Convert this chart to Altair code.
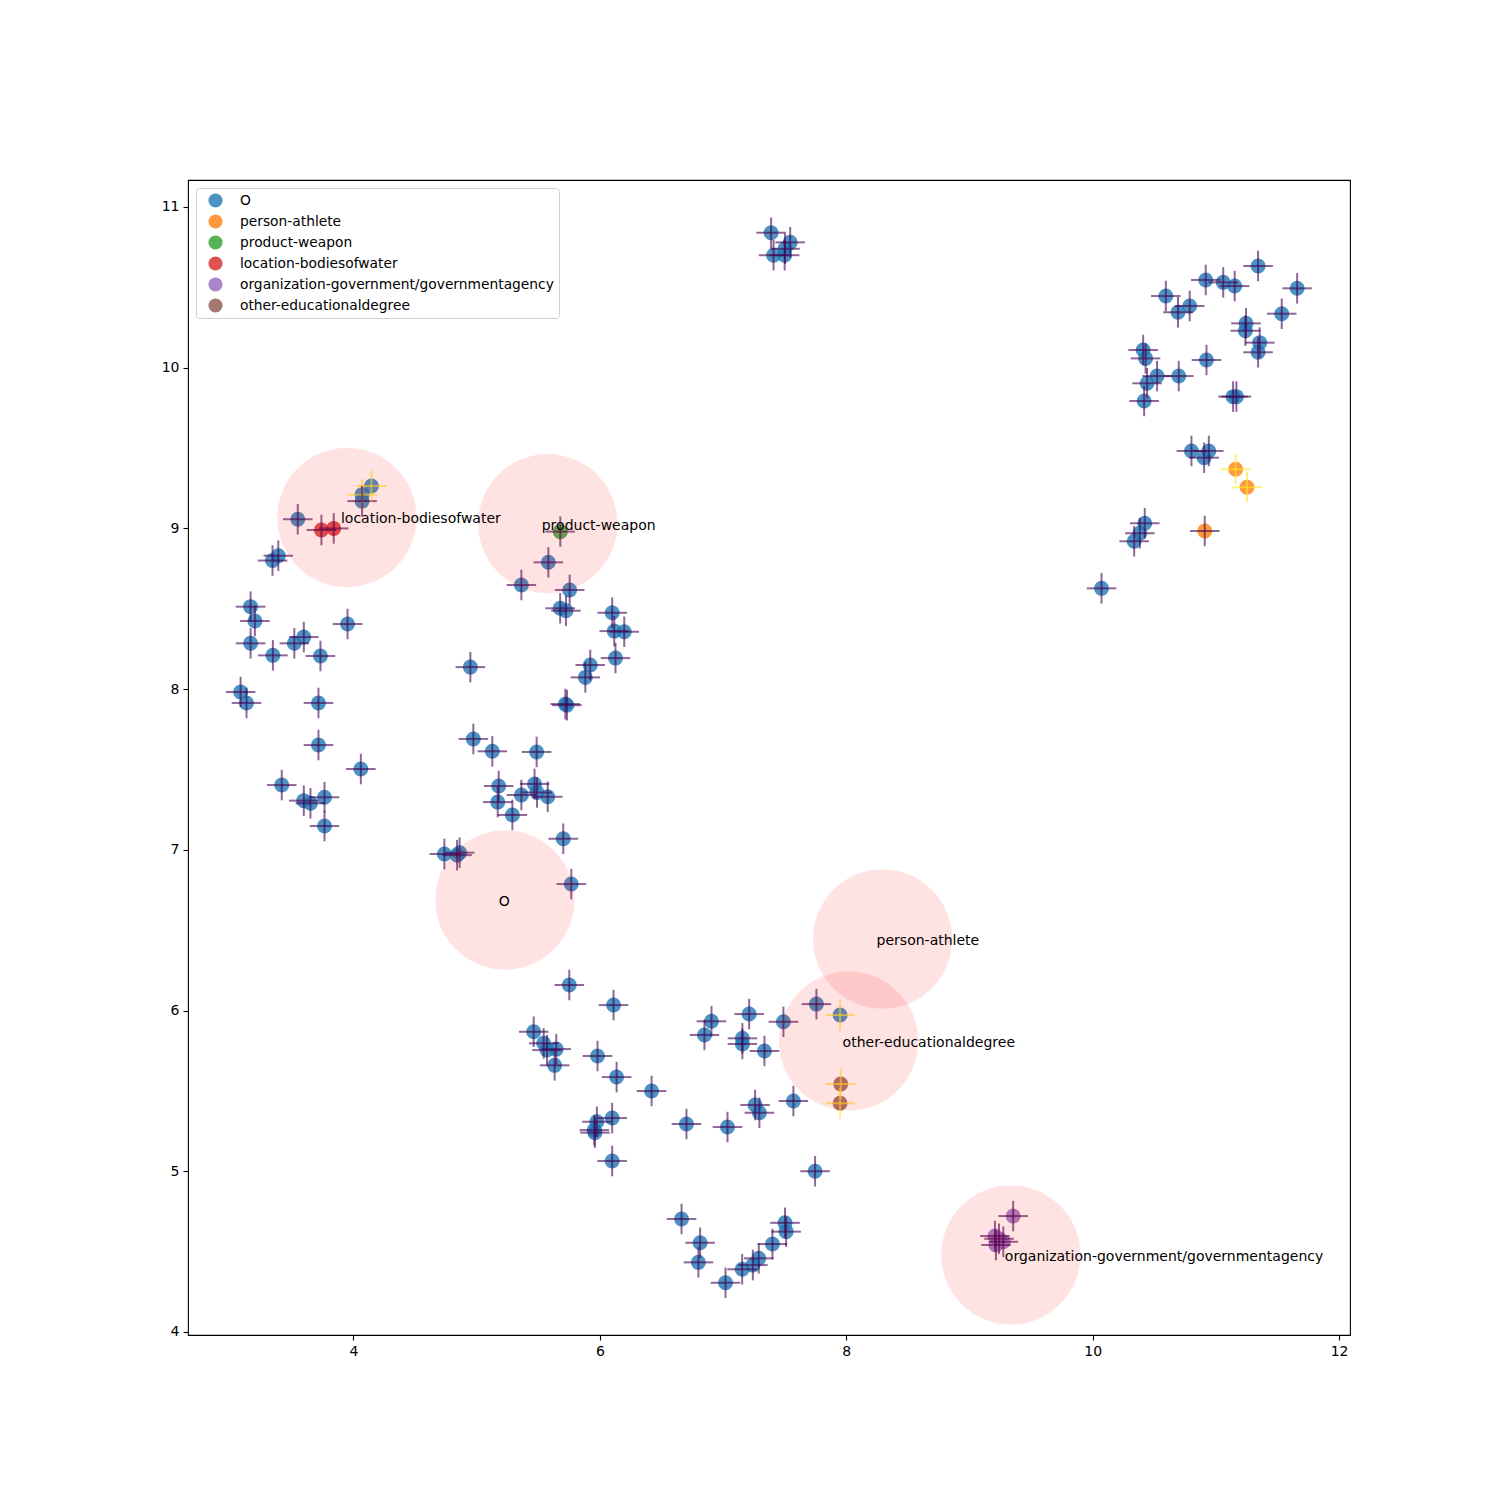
import altair as alt
import pandas as pd

# category names in legend order, with matplotlib tab10 colours
labels = ["O", "person-athlete", "product-weapon", "location-bodiesofwater",
          "organization-government/governmentagency", "other-educationaldegree"]
colors = ["#1f77b4", "#ff7f0e", "#2ca02c", "#d62728", "#9467bd", "#8c564b"]

# points (x, y, flag) per category; flag 1 = yellow error cross
O_x = [4.146, 4.07, 4.07, 3.548, 3.343, 3.39, 3.165, 3.20, 3.165, 3.346, 3.52, 3.597, 3.732, 3.952,
       3.084, 3.132, 3.716, 3.716, 4.06, 3.418, 3.597, 3.651, 3.765, 3.765,
       4.949, 5.363, 5.582, 5.755, 5.678, 5.725, 6.1, 6.117, 6.198, 6.127, 5.922, 5.882, 5.72, 5.733,
       4.973, 5.127, 5.487, 5.179, 5.171, 5.363, 5.47, 5.49, 5.577, 5.29, 5.703, 4.738, 4.841, 4.862, 5.768,
       5.752, 6.111, 5.463, 5.544, 5.571, 5.646, 5.633, 5.981, 6.136, 6.42, 5.976, 5.955, 5.96, 6.1, 6.1,
       6.703, 7.036, 6.906, 6.849, 7.212, 7.157, 7.157, 7.336, 7.49, 7.758, 7.95, 7.26, 7.295, 7.571, 7.747,
       6.663, 6.814, 6.8, 7.02, 7.155, 7.242, 7.29, 7.401, 7.503, 7.512,
       7.39, 7.545, 7.503, 7.41, 7.5,
       10.594, 10.693, 10.788, 10.918, 11.06, 11.153, 11.343, 11.66, 11.535, 11.245, 11.24, 11.356, 11.343,
       10.41, 10.43, 10.523, 10.699, 10.924, 10.442, 10.418, 11.14, 11.167, 10.802, 10.943, 10.905,
       10.423, 10.383, 10.337, 10.072]
O_y = [9.264, 9.21, 9.17, 9.057, 8.80, 8.83, 8.513, 8.424, 8.285, 8.21, 8.285, 8.324, 8.206, 8.405,
       7.982, 7.914, 7.914, 7.652, 7.503, 7.403, 7.306, 7.29, 7.327, 7.148,
       8.137, 8.648, 8.789, 8.617, 8.503, 8.488, 8.475, 8.361, 8.357, 8.193, 8.15, 8.073, 7.907, 7.90,
       7.69, 7.613, 7.609, 7.397, 7.297, 7.341, 7.41, 7.357, 7.33, 7.217, 7.069, 6.974, 6.967, 6.982, 6.787,
       6.159, 6.034, 5.868, 5.796, 5.754, 5.76, 5.659, 5.717, 5.586, 5.499, 5.308, 5.256, 5.24, 5.331, 5.064,
       5.294, 5.275, 5.933, 5.848, 5.978, 5.827, 5.792, 5.748, 5.93, 6.04, 5.972, 5.412, 5.364, 5.437, 5.0,
       4.703, 4.555, 4.433, 4.306, 4.39, 4.416, 4.458, 4.547, 4.679, 4.624,
       10.84, 10.78, 10.74, 10.70, 10.70,
       10.446, 10.345, 10.384, 10.546, 10.531, 10.508, 10.633, 10.494, 10.336, 10.276, 10.23, 10.156, 10.096,
       10.11, 10.058, 9.948, 9.948, 10.048, 9.903, 9.793, 9.82, 9.82, 9.482, 9.482, 9.44,
       9.032, 8.97, 8.92, 8.627]
O_flag = [1, 1] + [0] * 76 + [1] + [0] * 49 + [1]

athlete_x = [11.161, 11.253, 10.91]
athlete_y = [9.368, 9.256, 8.984]
athlete_flag = [1, 1, 0]

weapon_x = [5.679]
weapon_y = [8.98]
weapon_flag = [0]

water_x = [3.74, 3.84]
water_y = [8.99, 9.0]
water_flag = [0, 0]

gov_x = [9.355, 9.207, 9.275, 9.215, 9.24]
gov_y = [4.721, 4.597, 4.561, 4.541, 4.58]
gov_flag = [0, 0, 0, 0, 0]

degree_x = [7.955, 7.95]
degree_y = [5.543, 5.423]
degree_flag = [1, 1]

# prototype centres drawn as large pink circles with their label
proto_x = [5.229, 8.295, 5.577, 3.947, 9.336, 8.019]
proto_y = [6.688, 6.445, 9.030, 9.068, 4.479, 5.810]

groups = [(O_x, O_y, O_flag), (athlete_x, athlete_y, athlete_flag), (weapon_x, weapon_y, weapon_flag),
          (water_x, water_y, water_flag), (gov_x, gov_y, gov_flag), (degree_x, degree_y, degree_flag)]
rows = []
for name, (gx, gy, gf) in zip(labels, groups):
    for a, b, f in zip(gx, gy, gf):
        rows.append({"x": a, "y": b, "label": name, "flag": f})
points = pd.DataFrame(rows)
protos = pd.DataFrame({"x": proto_x, "y": proto_y, "label": labels})

xs = alt.Scale(domain=[2.657, 12.089], nice=False, zero=False)
ys = alt.Scale(domain=[3.981, 11.168], nice=False, zero=False)
xax = alt.Axis(values=[4, 6, 8, 10, 12], format="d", title=None, grid=False)
yax = alt.Axis(values=[4, 5, 6, 7, 8, 9, 10, 11], format="d", title=None, grid=False)

scatter = alt.Chart(points).mark_circle(size=225, opacity=0.8).encode(
    x=alt.X("x:Q", scale=xs, axis=xax),
    y=alt.Y("y:Q", scale=ys, axis=yax),
    color=alt.Color("label:N", scale=alt.Scale(domain=labels, range=colors),
                    legend=alt.Legend(title=None, orient="top-left", offset=8)),
)

cross_color = alt.Color("flag:N", scale=alt.Scale(domain=[0, 1], range=["#440154", "#fde725"]), legend=None)

hbar = alt.Chart(points).mark_rule(strokeWidth=2, opacity=0.6).transform_calculate(
    x1="datum.x - 0.12", x2="datum.x + 0.12"
).encode(x=alt.X("x1:Q", scale=xs), x2="x2:Q", y=alt.Y("y:Q", scale=ys), color=cross_color)

vbar = alt.Chart(points).mark_rule(strokeWidth=2, opacity=0.6).transform_calculate(
    y1="datum.y - 0.095", y2="datum.y + 0.095"
).encode(x=alt.X("x:Q", scale=xs), y=alt.Y("y1:Q", scale=ys), y2="y2:Q", color=cross_color)

blobs = alt.Chart(protos).mark_circle(size=19321, color="red", opacity=0.11,
                                      stroke="red", strokeOpacity=0.1, strokeWidth=1.5).encode(
    x=alt.X("x:Q", scale=xs), y=alt.Y("y:Q", scale=ys)
)

names = alt.Chart(protos).mark_text(align="left", baseline="middle", dx=-6, dy=2,
                                    fontSize=14, font="DejaVu Sans", color="black").encode(
    x=alt.X("x:Q", scale=xs), y=alt.Y("y:Q", scale=ys), text="label:N"
)

chart = alt.layer(scatter, hbar, vbar, blobs, names).resolve_scale(color="independent").properties(
    width=1162, height=1155,
    autosize=alt.AutoSizeParams(type="none"),
    padding={"left": 180, "top": 172, "right": 60, "bottom": 60},
).configure_view(
    stroke="black", strokeWidth=1.1
).configure_axis(
    domain=False, tickColor="black", tickSize=5, tickWidth=1.1,
    labelFont="DejaVu Sans", labelFontSize=14, labelColor="black", labelPadding=4
).configure_legend(
    fillColor="white", strokeColor="#d0d0d0", cornerRadius=3, padding=5,
    labelFont="DejaVu Sans", labelFontSize=13.8, labelColor="black",
    symbolType="circle", symbolSize=200, symbolOpacity=0.8, symbolStrokeWidth=0,
    symbolOffset=7, labelOffset=17, rowPadding=6, labelLimit=500
)

chart.save("out.html", embed_options={"renderer": "svg", "actions": False})
